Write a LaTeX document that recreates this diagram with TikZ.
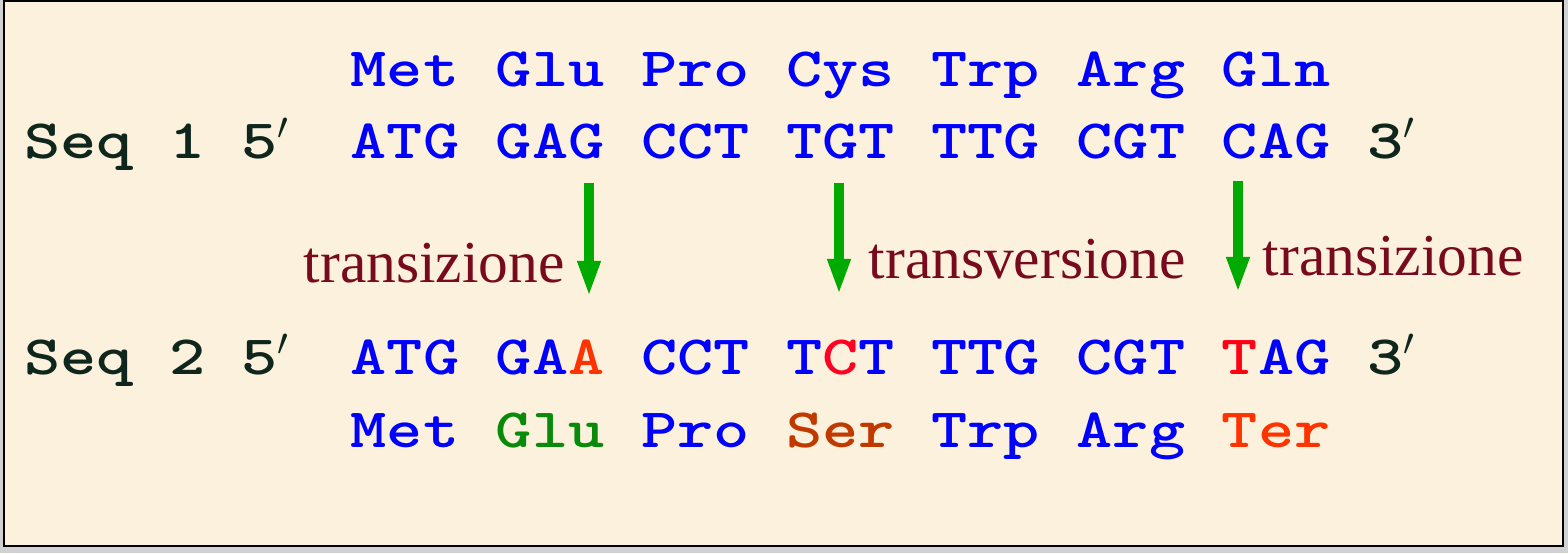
\documentclass[tikz,border=0pt]{standalone}
\usepackage{fontspec}
\setmainfont{Liberation Serif}
\newfontfamily\cour[FakeStretch=1.24]{lmmonolt10-bold.otf}
\usetikzlibrary{arrows.meta}
\definecolor{bg}{RGB}{252,241,220}
\definecolor{dk}{RGB}{14,38,28}
\definecolor{bl}{RGB}{0,0,255}
\definecolor{lab}{RGB}{120,10,30}
\definecolor{grn}{RGB}{0,170,0}
\definecolor{gluc}{RGB}{10,138,10}
\definecolor{serc}{RGB}{192,58,0}
\definecolor{terc}{RGB}{255,51,0}
\definecolor{mutA}{RGB}{255,51,0}
\definecolor{mutC}{RGB}{255,0,34}
\definecolor{mutT}{RGB}{255,0,20}
\begin{document}
\begin{tikzpicture}[x=0.01cm,y=-0.01cm,
  mono/.style={inner sep=0pt, anchor=base west, font=\fontsize{15.8}{19}\cour},
  seqlab/.style={mono, text=dk},
  codon/.style={mono, text=bl},
  lbl/.style={inner sep=0pt, anchor=base west, text=lab, font=\fontsize{16.9}{20}\selectfont},
  mut/.style={line width=0.1cm, draw=grn, -{Triangle[width=0.21cm,length=0.36cm]}}]
\useasboundingbox (0,0) rectangle (1568,553);
\fill[black!18] (0,0) rectangle (1568,553);
\draw[fill=bg, line width=0.025cm] (4,1) rectangle (1563,546);
% Row 1: amino acids of Seq 1
\foreach \k/\t/\n in {9/Met/a1, 13/Glu/a2, 17/Pro/a3, 21/Cys/a4, 25/Trp/a5, 29/Arg/a6, 33/Gln/a7}
  \node[codon] (top\n) at ({23.3+36.3*\k},86) {\t};
% Row 2: Seq 1
\node[seqlab] (s1) at (23.3,158) {Seq};
\node[seqlab] (s1n) at ({23.3+36.3*4},158) {1};
\node[seqlab] (s1p5) at ({23.3+36.3*6},158) {5$'$};
\foreach \k/\t/\n in {9/ATG/c1, 13/GAG/c2, 17/CCT/c3, 21/TGT/c4, 25/TTG/c5, 29/CGT/c6, 33/CAG/c7}
  \node[codon] (s1\n) at ({23.3+36.3*\k},158) {\t};
\node[seqlab] (s1p3) at ({23.3+36.3*37},158) {3$'$};
% Row 3: Seq 2
\node[seqlab] (s2) at (23.3,374) {Seq};
\node[seqlab] (s2n) at ({23.3+36.3*4},374) {2};
\node[seqlab] (s2p5) at ({23.3+36.3*6},374) {5$'$};
\node[codon] (s2c1) at ({23.3+36.3*9},374) {ATG};
\node[codon] (s2c2) at ({23.3+36.3*13},374) {GA\textcolor{mutA}{A}};
\node[codon] (s2c3) at ({23.3+36.3*17},374) {CCT};
\node[codon] (s2c4) at ({23.3+36.3*21},374) {T\textcolor{mutC}{C}T};
\node[codon] (s2c5) at ({23.3+36.3*25},374) {TTG};
\node[codon] (s2c6) at ({23.3+36.3*29},374) {CGT};
\node[codon] (s2c7) at ({23.3+36.3*33},374) {\textcolor{mutT}{T}AG};
\node[seqlab] (s2p3) at ({23.3+36.3*37},374) {3$'$};
% Row 4: amino acids of Seq 2
\node[codon] (bota1) at ({23.3+36.3*9},447) {Met};
\node[codon, text=gluc] (bota2) at ({23.3+36.3*13},447) {Glu};
\node[codon] (bota3) at ({23.3+36.3*17},447) {Pro};
\node[codon, text=serc] (bota4) at ({23.3+36.3*21},447) {Ser};
\node[codon] (bota5) at ({23.3+36.3*25},447) {Trp};
\node[codon] (bota6) at ({23.3+36.3*29},447) {Arg};
\node[codon, text=terc] (bota7) at ({23.3+36.3*33},447) {Ter};
% mutation arrows
\coordinate (m1s) at (589,183); \coordinate (m1e) at (589,297);
\coordinate (m2s) at (839,183); \coordinate (m2e) at (839,295);
\coordinate (m3s) at (1238,181); \coordinate (m3e) at (1238,293);
\draw[mut] (m1s) -- (m1e);
\draw[mut] (m2s) -- (m2e);
\draw[mut] (m3s) -- (m3e);
% labels
\node[lbl] (l1) at (303,282) {transizione};
\node[lbl] (l2) at (868,278) {transversione};
\node[lbl] (l3) at (1262,275) {transizione};
\end{tikzpicture}
\end{document}
